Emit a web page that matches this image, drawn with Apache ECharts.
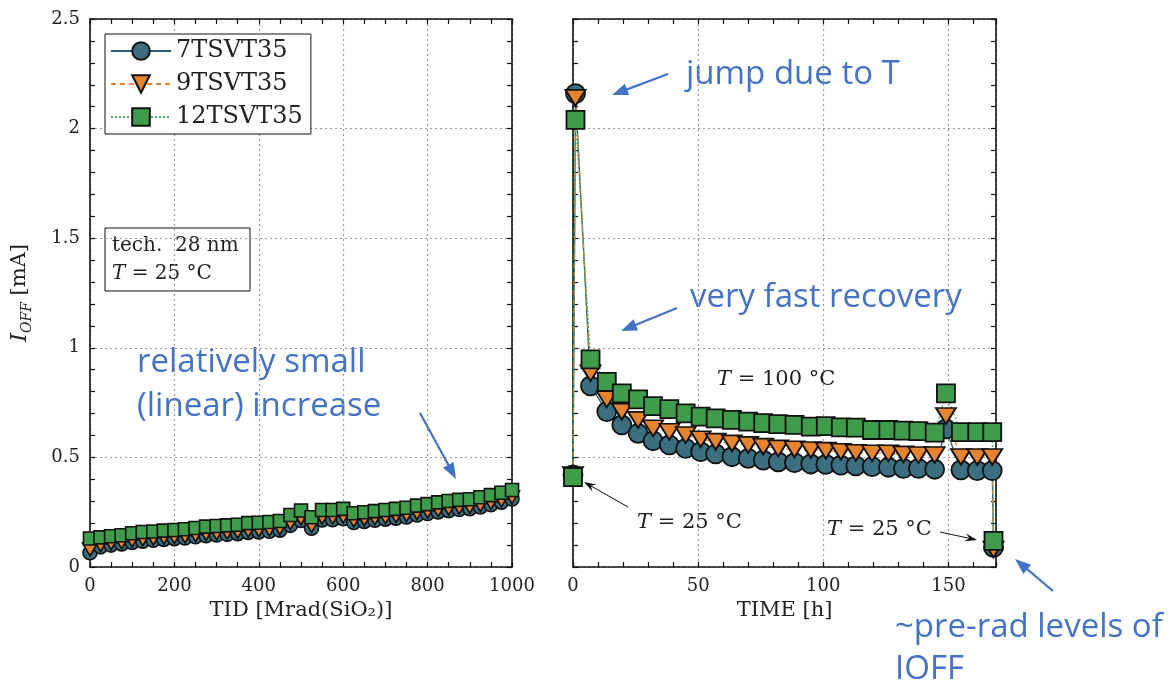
<!DOCTYPE html>
<html>
<head>
<meta charset="utf-8">
<script src="https://cdn.jsdelivr.net/npm/echarts@6/dist/echarts.min.js"></script>
<style>html,body{margin:0;padding:0;background:#fff;}#c{width:1174px;height:688px;}</style>
</head>
<body>
<div id="c"></div>
<script>
// ---------- data ----------
const seriesNames = ['7TSVT35', '9TSVT35', '12TSVT35'];
const tidMrad = [0,25,50,75,100,125,150,175,200,225,250,275,300,325,350,375,400,425,450,475,500,525,550,575,600,625,650,675,700,725,750,775,800,825,850,875,900,925,950,975,1000];
const tid7  = [0.065,0.092,0.1,0.105,0.112,0.118,0.122,0.126,0.129,0.132,0.138,0.143,0.146,0.149,0.152,0.158,0.16,0.163,0.168,0.19,0.212,0.177,0.215,0.216,0.22,0.203,0.208,0.213,0.218,0.223,0.228,0.237,0.244,0.251,0.257,0.262,0.266,0.274,0.284,0.296,0.31];
const tid9  = [0.08,0.1,0.108,0.113,0.12,0.126,0.13,0.134,0.137,0.14,0.146,0.151,0.154,0.157,0.16,0.166,0.168,0.171,0.176,0.2,0.222,0.188,0.225,0.226,0.23,0.212,0.217,0.222,0.227,0.232,0.237,0.246,0.253,0.26,0.266,0.271,0.275,0.283,0.293,0.304,0.318];
const tid12 = [0.13,0.135,0.14,0.145,0.154,0.16,0.162,0.166,0.169,0.172,0.178,0.184,0.187,0.19,0.193,0.2,0.202,0.205,0.21,0.237,0.258,0.227,0.26,0.26,0.265,0.245,0.25,0.255,0.26,0.265,0.27,0.28,0.287,0.295,0.301,0.306,0.309,0.318,0.328,0.339,0.351];

const timeH = [0,1,7,13.5,19.5,26,32,38.5,45,51,57,63.5,70,76,82,88.5,95,101,107,113,119.5,126,132,138,144.5,149,155,161.5,167.5,168];
const rec7  = [0.42,2.16,0.826,0.709,0.648,0.61,0.576,0.557,0.541,0.526,0.516,0.503,0.496,0.488,0.48,0.476,0.47,0.468,0.465,0.461,0.458,0.455,0.45,0.45,0.446,0.63,0.443,0.44,0.44,0.09];
const rec9  = [0.42,2.14,0.884,0.765,0.709,0.671,0.633,0.617,0.602,0.583,0.572,0.564,0.557,0.549,0.541,0.537,0.534,0.531,0.526,0.521,0.519,0.519,0.514,0.511,0.511,0.689,0.502,0.502,0.502,0.08];
const rec12 = [0.41,2.04,0.947,0.845,0.792,0.765,0.734,0.72,0.701,0.686,0.678,0.671,0.663,0.656,0.652,0.648,0.64,0.643,0.637,0.636,0.625,0.625,0.622,0.62,0.613,0.792,0.615,0.615,0.615,0.119];

const yTicks = [0, 0.5, 1, 1.5, 2, 2.5];

// ---------- styles ----------
const SERIF = '"DejaVu Serif", "Liberation Serif", serif';
const BLUE = '#4472C4';
const fillC = ['#3b6e7e', '#e6832f', '#3e9c4b'];
const lineC = ['#2a5d6b', '#e8843a', '#4aa85a'];
const lineT = ['solid', [5, 4], [2, 2]];
const sym = ['circle', 'triangle', 'rect'];
const symRot = [0, 180, 0];
const symSizeL = [14, [15, 13], 13];
const symSizeR = [19, [20, 16], 18];

function zipXY(xs, ys) { return xs.map((x, i) => [x, ys[i]]); }

const leftData = [tid7, tid9, tid12];
const rightData = [rec7, rec9, rec12];

const series = [];
for (let k = 0; k < 3; k++) {
  series.push({
    name: seriesNames[k], type: 'line', xAxisIndex: 0, yAxisIndex: 0,
    data: zipXY(tidMrad, leftData[k]), symbol: sym[k], symbolRotate: symRot[k], symbolSize: symSizeL[k],
    showAllSymbol: true, clip: false, animation: false,
    lineStyle: { color: lineC[k], width: 1.3, type: lineT[k] },
    itemStyle: { color: fillC[k], borderColor: '#111', borderWidth: 1.6, opacity: 1 },
    emphasis: { disabled: true }
  });
}
for (let k = 0; k < 3; k++) {
  series.push({
    name: seriesNames[k], type: 'line', xAxisIndex: 2, yAxisIndex: 2,
    data: zipXY(timeH, rightData[k]), symbol: sym[k], symbolRotate: symRot[k], symbolSize: symSizeR[k],
    showAllSymbol: true, clip: false, animation: false,
    lineStyle: { color: lineC[k], width: 1.3, type: lineT[k] },
    itemStyle: { color: fillC[k], borderColor: '#111', borderWidth: 1.8, opacity: 1 },
    emphasis: { disabled: true }
  });
}

const axLine = { show: true, onZero: false, lineStyle: { color: '#111', width: 1.6 } };
const axTick = { show: true, inside: true, length: 5, lineStyle: { color: '#111', width: 1.2 } };
const minTick = (n) => ({ show: true, splitNumber: n, length: 5, lineStyle: { color: '#111', width: 1.2 } });
const split = { show: true, lineStyle: { color: '#9a9a9a', width: 1.2, type: [2, 3] } };
const lbl = { fontFamily: SERIF, fontSize: 18, color: '#222' };
const nameStyle = { fontFamily: SERIF, fontSize: 21, color: '#222' };

function arrow(x1, y1, x2, y2, color, lw, hl, hw, notch) {
  const a = Math.atan2(y2 - y1, x2 - x1);
  const c = Math.cos(a), s = Math.sin(a);
  const bx = x2 - hl * c, by = y2 - hl * s;
  const px = -s * hw / 2, py = c * hw / 2;
  const pts = notch
    ? [[x2, y2], [bx + px, by + py], [x2 - hl * 0.65 * c, y2 - hl * 0.65 * s], [bx - px, by - py]]
    : [[x2, y2], [bx + px, by + py], [bx - px, by - py]];
  return [
    { type: 'line', silent: true, shape: { x1: x1, y1: y1, x2: x2 - hl * 0.6 * c, y2: y2 - hl * 0.6 * s }, style: { stroke: color, lineWidth: lw } },
    { type: 'polygon', silent: true, shape: { points: pts }, style: { fill: color } }
  ];
}
function blueText(x, y, t) {
  return { type: 'text', silent: true, x: x, y: y, style: { text: t, fill: BLUE, font: '33px "Open Sans", Lato, sans-serif', verticalAlign: 'middle', align: 'left' } };
}
function tempText(x, y, rest, size) {
  return { type: 'text', silent: true, x: x, y: y, style: {
    text: '{i|T} ' + rest, fill: '#222', font: size + 'px ' + SERIF, verticalAlign: 'middle', align: 'left',
    rich: { i: { fontStyle: 'italic', fontFamily: SERIF, fontSize: size, fill: '#222' } } } };
}

const graphics = [].concat(
  [{ type: 'rect', silent: true, shape: { x: 105, y: 228, width: 145, height: 63 }, style: { fill: '#fff', stroke: '#111', lineWidth: 1 } }],
  [{ type: 'text', silent: true, x: 112, y: 246, style: { text: 'tech.  28 nm', fill: '#222', font: '20px ' + SERIF, verticalAlign: 'middle' } }],
  [tempText(112, 274, '= 25 °C', 20)],
  [blueText(137, 363, 'relatively small'), blueText(137, 407, '(linear) increase')],
  arrow(420, 413, 456, 479, BLUE, 2.2, 16, 12, false),
  [blueText(686, 75, 'jump due to T')],
  arrow(668, 74, 612, 95, BLUE, 2.2, 16, 12, false),
  [blueText(690, 298, 'very fast recovery')],
  arrow(677, 308, 621, 331, BLUE, 2.2, 16, 12, false),
  [blueText(895, 628, '~pre-rad levels of'), blueText(895, 670, 'IOFF')],
  arrow(1053, 591, 1015, 559, BLUE, 2.2, 16, 12, false),
  [tempText(717, 380, '= 100 °C', 21)],
  [tempText(637, 523, '= 25 °C', 21)],
  arrow(628, 507, 584, 482, '#111', 1, 12, 8, true),
  [tempText(827, 530, '= 25 °C', 21)],
  arrow(940, 532, 977, 540, '#111', 1, 12, 8, true)
);

const option = {
  backgroundColor: '#fff',
  animation: false,
  grid: [
    { left: 90, top: 19, width: 422, height: 548, outerBoundsMode: 'none' },
    { left: 573, top: 19, width: 423, height: 548, outerBoundsMode: 'none' }
  ],
  legend: {
    orient: 'vertical', left: 105, top: 34, data: seriesNames,
    backgroundColor: '#fff', borderColor: '#111', borderWidth: 1,
    padding: [5, 8, 5, 5], itemGap: 9, itemWidth: 60, itemHeight: 22,
    textStyle: { fontFamily: SERIF, fontSize: 24, color: '#222' },
    selectedMode: false, z: 10
  },
  xAxis: [
    { gridIndex: 0, type: 'value', position: 'bottom', min: 0, max: 1000, interval: 200,
      axisLine: axLine, axisTick: axTick, minorTick: minTick(4),
      axisLabel: Object.assign({ margin: 10, formatter: (v) => String(v) }, lbl),
      splitLine: split, name: 'TID [Mrad(SiO₂)]', nameLocation: 'middle', nameGap: 30, nameTextStyle: nameStyle },
    { gridIndex: 0, type: 'value', position: 'top', min: 0, max: 1000, interval: 200,
      axisLine: axLine, axisTick: axTick, minorTick: minTick(4), axisLabel: { show: false }, splitLine: { show: false } },
    { gridIndex: 1, type: 'value', position: 'bottom', min: 0, max: 169, interval: 50,
      axisLine: axLine, axisTick: axTick, minorTick: minTick(5),
      axisLabel: Object.assign({ margin: 10, showMaxLabel: false, formatter: (v) => (v % 50 === 0 ? String(v) : '') }, lbl),
      splitLine: split, name: 'TIME [h]', nameLocation: 'middle', nameGap: 30, nameTextStyle: nameStyle },
    { gridIndex: 1, type: 'value', position: 'top', min: 0, max: 169, interval: 50,
      axisLine: axLine, axisTick: axTick, minorTick: minTick(5), axisLabel: { show: false }, splitLine: { show: false } }
  ],
  yAxis: [
    { gridIndex: 0, type: 'value', position: 'left', min: yTicks[0], max: yTicks[yTicks.length - 1], interval: 0.5,
      axisLine: axLine, axisTick: axTick, minorTick: minTick(5), axisLabel: Object.assign({ margin: 10 }, lbl),
      splitLine: split,
      name: '{i|I}{s|OFF}{n| [mA]}', nameLocation: 'middle', nameGap: 56, nameRotate: 90,
      nameTextStyle: { rich: {
        i: { fontFamily: SERIF, fontStyle: 'italic', fontSize: 23, color: '#222', lineHeight: 28 },
        s: { fontFamily: SERIF, fontStyle: 'italic', fontSize: 14, color: '#222', lineHeight: 14, verticalAlign: 'bottom' },
        n: { fontFamily: SERIF, fontSize: 21, color: '#222', lineHeight: 28 } } } },
    { gridIndex: 0, type: 'value', position: 'right', min: 0, max: 2.5, interval: 0.5,
      axisLine: axLine, axisTick: axTick, minorTick: minTick(5), axisLabel: { show: false }, splitLine: { show: false } },
    { gridIndex: 1, type: 'value', position: 'left', min: 0, max: 2.5, interval: 0.5,
      axisLine: axLine, axisTick: axTick, minorTick: minTick(5), axisLabel: { show: false }, splitLine: split },
    { gridIndex: 1, type: 'value', position: 'right', min: 0, max: 2.5, interval: 0.5,
      axisLine: axLine, axisTick: axTick, minorTick: minTick(5), axisLabel: { show: false }, splitLine: { show: false } }
  ],
  series: series,
  graphic: { elements: graphics }
};

const chart = echarts.init(document.getElementById('c'), null, { renderer: 'canvas' });
chart.setOption(option);
</script>
</body>
</html>
